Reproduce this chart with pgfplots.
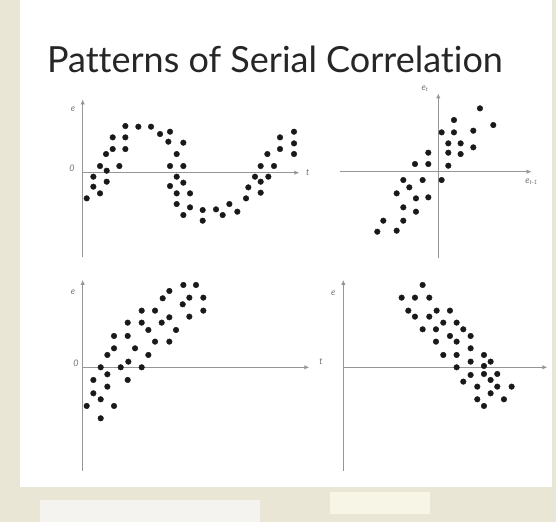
\documentclass[border=0pt]{standalone}
\usepackage{fontspec}
\setmainfont{Lato}[Ligatures={NoCommon}]
\usepackage{pgfplots}
\pgfplotsset{compat=1.18}
\usetikzlibrary{arrows.meta}

\definecolor{beige}{RGB}{234,230,214}
\definecolor{axisgray}{RGB}{150,150,150}

\pgfplotsset{
  panel/.style={
    x=0.3333pt, y=0.3333pt,
    anchor=origin,
    axis lines=middle,
    enlargelimits=false,
    xtick=\empty, ytick=\empty,
    clip=false,
    axis line style={draw=axisgray, line width=1.2pt, -{Latex[length=5pt,width=4.5pt]}},
  },
  dots/.style={only marks, mark=*, mark size=2.8pt, draw=black!90, fill=black!90},
}
\tikzset{lbl/.style={font=\fontsize{9}{9}\selectfont\itshape, text=black!55, inner sep=0pt}}

\begin{document}
\begin{tikzpicture}
% page background and white slide area
\fill[beige] (0,0) rectangle (556pt,522pt);
\fill[beige!85!gray!30] (40pt,0pt) rectangle (260pt,22pt);
\fill[beige!90!yellow!40] (330pt,8pt) rectangle (430pt,30pt);
\fill[white] (19.5pt,35pt) rectangle (552pt,522pt);

% title
\node[font=\fontsize{36}{36}\selectfont, text=black!85, anchor=base] at (275pt,449pt)
  {Patterns of Serial Correlation};

% top left: cycles in e over t
\begin{axis}[panel, at={(82.7pt,349.3pt)}, xmin=0, xmax=650, ymin=-252, ymax=220]
\addplot[dots] coordinates {
(12,-77)(32,-12)(32,-42)(52,20)(52,-62)(70,56)(72,6)(72,-27)(90,106)(90,71)
(110,20)(128,140)(128,106)(128,71)(167,138)(205,138)(232,116)(262,123)(257,93)
(302,90)(282,56)(262,20)(302,20)(282,-12)(302,-30)(262,-40)(282,-62)(322,-62)
(282,-94)(322,-104)(302,-127)(360,-112)(360,-144)(400,-110)(420,-127)(440,-94)
(464,-117)(490,-77)(497,-44)(517,-12)(534,20)(534,-27)(534,-60)(557,-12)(554,56)
(574,20)(592,106)(592,71)(634,123)(634,88)(634,56)
};
\node[lbl] at (axis cs:-29,190) {e};
\node[lbl] at (axis cs:-32,14) {0};
\node[lbl] at (axis cs:675,0) {t};
\end{axis}

% top right: e_t against e_{t-1}
\begin{axis}[panel, at={(438.3pt,350.3pt)}, xmin=-295, xmax=280, ymin=-260, ymax=235]
\addplot[dots] coordinates {
(125,190)(47,155)(165,140)(10,118)(47,118)(105,123)(30,85)(67,85)(105,73)
(30,57)(67,53)(-30,57)(-70,23)(-30,23)(30,18)(10,-25)(-105,-25)(-47,-25)
(-87,-47)(-125,-65)(-67,-80)(-30,-77)(-105,-107)(-67,-120)(-165,-147)
(-105,-147)(-183,-180)(-125,-177)
};
\node[lbl] at (axis cs:-40,248) {e\textsubscript{t}};
\node[lbl] at (axis cs:280,-30) {e\textsubscript{t-1}};
\end{axis}

% bottom left: upward trend
\begin{axis}[panel, at={(82.7pt,154.7pt)}, xmin=0, xmax=680, ymin=-311, ymax=262]
\addplot[dots] coordinates {
(302,247)(340,247)(260,229)(240,207)(320,209)(362,209)(300,189)(177,170)
(217,170)(362,170)(260,150)(320,152)(135,134)(177,134)(237,134)(197,112)
(280,112)(94,94)(135,94)(217,77)(260,77)(94,57)(157,57)(74,37)(197,37)
(137,17)(54,0)(114,0)(177,0)(74,-21)(32,-38)(135,-38)(74,-58)(32,-78)
(54,-96)(12,-116)(94,-116)(54,-153)
};
\node[lbl] at (axis cs:-29,226) {e};
\node[lbl] at (axis cs:-20,13) {0};
\node[lbl] at (axis cs:715,18) {t};
\end{axis}

% bottom right: downward trend
\begin{axis}[panel, at={(343.3pt,154.7pt)}, xmin=0, xmax=612, ymin=-311, ymax=262]
\addplot[dots] coordinates {
(238,247)(175,209)(215,209)(258,209)(195,170)(280,170)(320,170)(215,152)
(258,152)(300,134)(340,134)(238,114)(278,114)(360,114)(320,94)(382,94)
(278,77)(340,77)(382,57)(300,37)(340,37)(422,37)(382,17)(442,17)(340,0)
(422,4)(382,-23)(422,-20)(462,-20)(360,-43)(442,-38)(402,-58)(462,-58)
(505,-58)(442,-78)(402,-96)(482,-96)(422,-116)
};
\node[lbl] at (axis cs:-30,222) {e};
\end{axis}
\end{tikzpicture}
\end{document}
